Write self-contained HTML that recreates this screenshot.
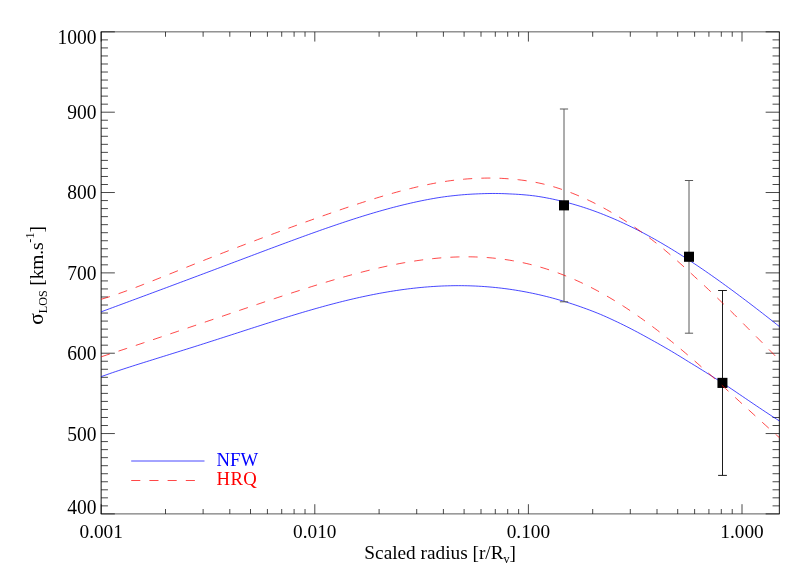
<!DOCTYPE html>
<html><head><meta charset="utf-8"><title>plot</title>
<style>
html,body{margin:0;padding:0;background:#fff;}
svg{display:block;will-change:transform;}
text{font-family:"Liberation Serif",serif;fill:#000;}
</style></head><body>
<svg width="810" height="578" viewBox="0 0 810 578">
<rect x="0" y="0" width="810" height="578" fill="#fff"/>

<g stroke="#000" fill="none">
<path stroke-width="0.9" stroke-opacity="0.72" d="M100.7,31.85H779.8000000000001 M100.7,513.9H779.8000000000001"/>
<path stroke-width="0.95" stroke-opacity="0.97" d="M101.15,31.85V513.9 M779.35,31.85V513.9"/>
<path stroke-width="0.85" stroke-opacity="0.85" d="M101.15,513.90h13.7M779.35,513.90h-13.7M101.15,505.87h6.8M779.35,505.87h-6.8M101.15,497.83h6.8M779.35,497.83h-6.8M101.15,489.80h6.8M779.35,489.80h-6.8M101.15,481.76h6.8M779.35,481.76h-6.8M101.15,473.73h6.8M779.35,473.73h-6.8M101.15,465.69h6.8M779.35,465.69h-6.8M101.15,457.66h6.8M779.35,457.66h-6.8M101.15,449.63h6.8M779.35,449.63h-6.8M101.15,441.59h6.8M779.35,441.59h-6.8M101.15,433.56h13.7M779.35,433.56h-13.7M101.15,425.52h6.8M779.35,425.52h-6.8M101.15,417.49h6.8M779.35,417.49h-6.8M101.15,409.46h6.8M779.35,409.46h-6.8M101.15,401.42h6.8M779.35,401.42h-6.8M101.15,393.39h6.8M779.35,393.39h-6.8M101.15,385.35h6.8M779.35,385.35h-6.8M101.15,377.32h6.8M779.35,377.32h-6.8M101.15,369.28h6.8M779.35,369.28h-6.8M101.15,361.25h6.8M779.35,361.25h-6.8M101.15,353.22h13.7M779.35,353.22h-13.7M101.15,345.18h6.8M779.35,345.18h-6.8M101.15,337.15h6.8M779.35,337.15h-6.8M101.15,329.11h6.8M779.35,329.11h-6.8M101.15,321.08h6.8M779.35,321.08h-6.8M101.15,313.05h6.8M779.35,313.05h-6.8M101.15,305.01h6.8M779.35,305.01h-6.8M101.15,296.98h6.8M779.35,296.98h-6.8M101.15,288.94h6.8M779.35,288.94h-6.8M101.15,280.91h6.8M779.35,280.91h-6.8M101.15,272.88h13.7M779.35,272.88h-13.7M101.15,264.84h6.8M779.35,264.84h-6.8M101.15,256.81h6.8M779.35,256.81h-6.8M101.15,248.77h6.8M779.35,248.77h-6.8M101.15,240.74h6.8M779.35,240.74h-6.8M101.15,232.70h6.8M779.35,232.70h-6.8M101.15,224.67h6.8M779.35,224.67h-6.8M101.15,216.64h6.8M779.35,216.64h-6.8M101.15,208.60h6.8M779.35,208.60h-6.8M101.15,200.57h6.8M779.35,200.57h-6.8M101.15,192.53h13.7M779.35,192.53h-13.7M101.15,184.50h6.8M779.35,184.50h-6.8M101.15,176.47h6.8M779.35,176.47h-6.8M101.15,168.43h6.8M779.35,168.43h-6.8M101.15,160.40h6.8M779.35,160.40h-6.8M101.15,152.36h6.8M779.35,152.36h-6.8M101.15,144.33h6.8M779.35,144.33h-6.8M101.15,136.29h6.8M779.35,136.29h-6.8M101.15,128.26h6.8M779.35,128.26h-6.8M101.15,120.23h6.8M779.35,120.23h-6.8M101.15,112.19h13.7M779.35,112.19h-13.7M101.15,104.16h6.8M779.35,104.16h-6.8M101.15,96.12h6.8M779.35,96.12h-6.8M101.15,88.09h6.8M779.35,88.09h-6.8M101.15,80.06h6.8M779.35,80.06h-6.8M101.15,72.02h6.8M779.35,72.02h-6.8M101.15,63.99h6.8M779.35,63.99h-6.8M101.15,55.95h6.8M779.35,55.95h-6.8M101.15,47.92h6.8M779.35,47.92h-6.8M101.15,39.88h6.8M779.35,39.88h-6.8M101.15,31.85h13.7M779.35,31.85h-13.7"/>
<path stroke-width="0.9" stroke-opacity="0.8" d="M101.20,513.9v-9.7M101.20,31.85v9.7M165.50,513.9v-4.9M165.50,31.85v4.9M203.11,513.9v-4.9M203.11,31.85v4.9M229.80,513.9v-4.9M229.80,31.85v4.9M250.50,513.9v-4.9M250.50,31.85v4.9M267.41,513.9v-4.9M267.41,31.85v4.9M281.71,513.9v-4.9M281.71,31.85v4.9M294.10,513.9v-4.9M294.10,31.85v4.9M305.03,513.9v-4.9M305.03,31.85v4.9M314.80,513.9v-9.7M314.80,31.85v9.7M379.10,513.9v-4.9M379.10,31.85v4.9M416.71,513.9v-4.9M416.71,31.85v4.9M443.40,513.9v-4.9M443.40,31.85v4.9M464.10,513.9v-4.9M464.10,31.85v4.9M481.01,513.9v-4.9M481.01,31.85v4.9M495.31,513.9v-4.9M495.31,31.85v4.9M507.70,513.9v-4.9M507.70,31.85v4.9M518.63,513.9v-4.9M518.63,31.85v4.9M528.40,513.9v-9.7M528.40,31.85v9.7M592.70,513.9v-4.9M592.70,31.85v4.9M630.31,513.9v-4.9M630.31,31.85v4.9M657.00,513.9v-4.9M657.00,31.85v4.9M677.70,513.9v-4.9M677.70,31.85v4.9M694.61,513.9v-4.9M694.61,31.85v4.9M708.91,513.9v-4.9M708.91,31.85v4.9M721.30,513.9v-4.9M721.30,31.85v4.9M732.23,513.9v-4.9M732.23,31.85v4.9M742.00,513.9v-9.7M742.00,31.85v9.7"/>
</g>
<g fill="none" stroke-width="0.72" stroke="#0000ff">
<path d="M101.20,311.80 L104.04,310.75 L106.88,309.71 L109.71,308.66 L112.55,307.61 L115.39,306.57 L118.23,305.52 L121.06,304.47 L123.90,303.42 L126.74,302.37 L129.58,301.31 L132.41,300.26 L135.25,299.21 L138.09,298.16 L140.93,297.10 L143.76,296.05 L146.60,295.00 L149.44,293.94 L152.28,292.89 L155.12,291.83 L157.95,290.78 L160.79,289.72 L163.63,288.66 L166.47,287.61 L169.30,286.55 L172.14,285.49 L174.98,284.43 L177.82,283.37 L180.65,282.31 L183.49,281.25 L186.33,280.19 L189.17,279.13 L192.01,278.06 L194.84,277.00 L197.68,275.94 L200.52,274.87 L203.36,273.81 L206.19,272.74 L209.03,271.68 L211.87,270.61 L214.71,269.54 L217.54,268.48 L220.38,267.41 L223.22,266.34 L226.06,265.27 L228.89,264.20 L231.73,263.13 L234.57,262.06 L237.41,261.00 L240.25,259.93 L243.08,258.86 L245.92,257.79 L248.76,256.72 L251.60,255.65 L254.43,254.58 L257.27,253.52 L260.11,252.45 L262.95,251.38 L265.78,250.32 L268.62,249.26 L271.46,248.20 L274.30,247.14 L277.13,246.08 L279.97,245.02 L282.81,243.97 L285.65,242.92 L288.49,241.87 L291.32,240.82 L294.16,239.78 L297.00,238.74 L299.84,237.70 L302.67,236.67 L305.51,235.64 L308.35,234.61 L311.19,233.59 L314.02,232.58 L316.86,231.57 L319.70,230.56 L322.54,229.56 L325.37,228.57 L328.21,227.58 L331.05,226.60 L333.89,225.63 L336.73,224.66 L339.56,223.70 L342.40,222.75 L345.24,221.80 L348.08,220.87 L350.91,219.94 L353.75,219.02 L356.59,218.12 L359.43,217.22 L362.26,216.33 L365.10,215.45 L367.94,214.59 L370.78,213.73 L373.62,212.89 L376.45,212.06 L379.29,211.24 L382.13,210.43 L384.97,209.64 L387.80,208.86 L390.64,208.09 L393.48,207.34 L396.32,206.61 L399.15,205.89 L401.99,205.18 L404.83,204.49 L407.67,203.82 L410.50,203.16 L413.34,202.52 L416.18,201.90 L419.02,201.29 L421.86,200.70 L424.69,200.14 L427.53,199.59 L430.37,199.06 L433.21,198.55 L436.04,198.06 L438.88,197.59 L441.72,197.16 L444.56,196.76 L447.39,196.39 L450.23,196.04 L453.07,195.72 L455.91,195.41 L458.74,195.13 L461.58,194.87 L464.42,194.64 L467.26,194.42 L470.10,194.24 L472.93,194.07 L475.77,193.94 L478.61,193.82 L481.45,193.72 L484.28,193.62 L487.12,193.55 L489.96,193.50 L492.80,193.48 L495.63,193.49 L498.47,193.52 L501.31,193.59 L504.15,193.67 L506.98,193.79 L509.82,193.93 L512.66,194.05 L515.50,194.20 L518.34,194.37 L521.17,194.57 L524.01,194.80 L526.85,195.06 L529.69,195.34 L532.52,195.66 L535.36,196.01 L538.20,196.44 L541.04,196.90 L543.87,197.39 L546.71,197.91 L549.55,198.46 L552.39,199.04 L555.23,199.65 L558.06,200.29 L560.90,200.95 L563.74,201.65 L566.58,202.38 L569.41,203.14 L572.25,203.92 L575.09,204.74 L577.93,205.59 L580.76,206.46 L583.60,207.37 L586.44,208.30 L589.28,209.27 L592.11,210.26 L594.95,211.28 L597.79,212.33 L600.63,213.42 L603.47,214.52 L606.30,215.66 L609.14,216.83 L611.98,218.02 L614.82,219.24 L617.65,220.49 L620.49,221.77 L623.33,223.07 L626.17,224.40 L629.00,225.76 L631.84,227.14 L634.68,228.56 L637.52,229.99 L640.35,231.45 L643.19,232.94 L646.03,234.45 L648.87,235.99 L651.71,237.55 L654.54,239.13 L657.38,240.74 L660.22,242.37 L663.06,244.03 L665.89,245.71 L668.73,247.40 L671.57,249.13 L674.41,250.87 L677.24,252.63 L680.08,254.41 L682.92,256.22 L685.76,258.04 L688.59,259.88 L691.43,261.75 L694.27,263.63 L697.11,265.52 L699.95,267.44 L702.78,269.37 L705.62,271.32 L708.46,273.29 L711.30,275.27 L714.13,277.27 L716.97,279.28 L719.81,281.31 L722.65,283.35 L725.48,285.40 L728.32,287.47 L731.16,289.55 L734.00,291.64 L736.84,293.75 L739.67,295.87 L742.51,298.00 L745.35,300.14 L748.19,302.29 L751.02,304.45 L753.86,306.62 L756.70,308.80 L759.54,310.98 L762.37,313.18 L765.21,315.39 L768.05,317.60 L770.89,319.83 L773.72,322.06 L776.56,324.30 L779.40,326.54"/>
<path d="M101.20,376.62 L104.04,375.61 L106.88,374.60 L109.71,373.62 L112.55,372.64 L115.39,371.68 L118.23,370.73 L121.06,369.79 L123.90,368.86 L126.74,367.93 L129.58,367.02 L132.41,366.11 L135.25,365.20 L138.09,364.30 L140.93,363.41 L143.76,362.52 L146.60,361.63 L149.44,360.74 L152.28,359.86 L155.12,358.97 L157.95,358.09 L160.79,357.21 L163.63,356.32 L166.47,355.44 L169.30,354.56 L172.14,353.67 L174.98,352.79 L177.82,351.90 L180.65,351.01 L183.49,350.12 L186.33,349.23 L189.17,348.34 L192.01,347.44 L194.84,346.55 L197.68,345.65 L200.52,344.75 L203.36,343.84 L206.19,342.94 L209.03,342.03 L211.87,341.12 L214.71,340.21 L217.54,339.30 L220.38,338.39 L223.22,337.48 L226.06,336.56 L228.89,335.65 L231.73,334.73 L234.57,333.81 L237.41,332.90 L240.25,331.98 L243.08,331.06 L245.92,330.14 L248.76,329.23 L251.60,328.31 L254.43,327.40 L257.27,326.49 L260.11,325.58 L262.95,324.67 L265.78,323.76 L268.62,322.86 L271.46,321.96 L274.30,321.07 L277.13,320.17 L279.97,319.29 L282.81,318.40 L285.65,317.52 L288.49,316.65 L291.32,315.78 L294.16,314.92 L297.00,314.06 L299.84,313.21 L302.67,312.37 L305.51,311.53 L308.35,310.70 L311.19,309.88 L314.02,309.07 L316.86,308.26 L319.70,307.47 L322.54,306.68 L325.37,305.90 L328.21,305.14 L331.05,304.38 L333.89,303.63 L336.73,302.90 L339.56,302.18 L342.40,301.46 L345.24,300.76 L348.08,300.07 L350.91,299.40 L353.75,298.73 L356.59,298.08 L359.43,297.45 L362.26,296.82 L365.10,296.22 L367.94,295.62 L370.78,295.04 L373.62,294.48 L376.45,293.93 L379.29,293.39 L382.13,292.87 L384.97,292.37 L387.80,291.88 L390.64,291.41 L393.48,290.96 L396.32,290.52 L399.15,290.10 L401.99,289.70 L404.83,289.32 L407.67,288.95 L410.50,288.60 L413.34,288.27 L416.18,287.96 L419.02,287.67 L421.86,287.40 L424.69,287.14 L427.53,286.91 L430.37,286.69 L433.21,286.50 L436.04,286.32 L438.88,286.17 L441.72,286.03 L444.56,285.92 L447.39,285.83 L450.23,285.75 L453.07,285.70 L455.91,285.67 L458.74,285.66 L461.58,285.67 L464.42,285.71 L467.26,285.76 L470.10,285.84 L472.93,285.94 L475.77,286.06 L478.61,286.21 L481.45,286.37 L484.28,286.56 L487.12,286.77 L489.96,287.01 L492.80,287.26 L495.63,287.54 L498.47,287.84 L501.31,288.17 L504.15,288.52 L506.98,288.89 L509.82,289.29 L512.66,289.70 L515.50,290.15 L518.34,290.61 L521.17,291.10 L524.01,291.61 L526.85,292.15 L529.69,292.71 L532.52,293.29 L535.36,293.90 L538.20,294.53 L541.04,295.18 L543.87,295.86 L546.71,296.56 L549.55,297.29 L552.39,298.04 L555.23,298.81 L558.06,299.61 L560.90,300.43 L563.74,301.28 L566.58,302.15 L569.41,303.04 L572.25,303.96 L575.09,304.90 L577.93,305.86 L580.76,306.85 L583.60,307.86 L586.44,308.90 L589.28,309.95 L592.11,311.04 L594.95,312.14 L597.79,313.27 L600.63,314.44 L603.47,315.67 L606.30,316.92 L609.14,318.20 L611.98,319.50 L614.82,320.83 L617.65,322.17 L620.49,323.54 L623.33,324.93 L626.17,326.34 L629.00,327.78 L631.84,329.24 L634.68,330.71 L637.52,332.21 L640.35,333.73 L643.19,335.27 L646.03,336.83 L648.87,338.42 L651.71,339.98 L654.54,341.55 L657.38,343.13 L660.22,344.74 L663.06,346.36 L665.89,348.00 L668.73,349.66 L671.57,351.34 L674.41,353.03 L677.24,354.74 L680.08,356.47 L682.92,358.21 L685.76,359.97 L688.59,361.74 L691.43,363.49 L694.27,365.21 L697.11,366.94 L699.95,368.69 L702.78,370.45 L705.62,372.22 L708.46,374.00 L711.30,375.79 L714.13,377.59 L716.97,379.40 L719.81,381.22 L722.65,383.04 L725.48,384.88 L728.32,386.80 L731.16,388.72 L734.00,390.64 L736.84,392.57 L739.67,394.49 L742.51,396.42 L745.35,398.35 L748.19,400.27 L751.02,402.19 L753.86,404.11 L756.70,406.02 L759.54,407.93 L762.37,409.82 L765.21,411.71 L768.05,413.58 L770.89,415.44 L773.72,417.29 L776.56,419.12 L779.40,420.93"/>
<path d="M131.2,461 H204.5"/>
</g>
<path stroke="#5a5a5a" stroke-width="1.0" fill="none" d="M564.0,109.00V301.80 M559.9,109.00h8.2 M559.9,301.80h8.2"/>
<path stroke="#5a5a5a" stroke-width="1.0" fill="none" d="M689.0,180.50V333.20 M684.9,180.50h8.2 M684.9,333.20h8.2"/>
<path stroke="#111" stroke-width="0.95" fill="none" d="M722.5,290.50V475.40 M718.1,290.50h8.8 M718.1,475.40h8.8"/>
<rect x="559.00" y="200.29" width="10" height="10.1" fill="#000"/>
<rect x="684.00" y="251.71" width="10" height="10.1" fill="#000"/>
<rect x="717.45" y="377.84" width="10" height="10.1" fill="#000"/>
<g fill="none" stroke-width="0.72" stroke="#ff0000" stroke-dasharray="9.1 9.1">
<path d="M101.20,299.25 L104.04,298.41 L106.88,297.54 L109.71,296.64 L112.55,295.72 L115.39,294.77 L118.23,293.80 L121.06,292.80 L123.90,291.79 L126.74,290.76 L129.58,289.71 L132.41,288.65 L135.25,287.58 L138.09,286.50 L140.93,285.41 L143.76,284.30 L146.60,283.20 L149.44,282.08 L152.28,280.96 L155.12,279.83 L157.95,278.70 L160.79,277.57 L163.63,276.43 L166.47,275.29 L169.30,274.16 L172.14,273.02 L174.98,271.88 L177.82,270.74 L180.65,269.60 L183.49,268.46 L186.33,267.33 L189.17,266.19 L192.01,265.06 L194.84,263.93 L197.68,262.80 L200.52,261.68 L203.36,260.55 L206.19,259.43 L209.03,258.32 L211.87,257.20 L214.71,256.09 L217.54,254.99 L220.38,253.88 L223.22,252.78 L226.06,251.68 L228.89,250.58 L231.73,249.49 L234.57,248.40 L237.41,247.32 L240.25,246.23 L243.08,245.15 L245.92,244.07 L248.76,243.00 L251.60,241.93 L254.43,240.86 L257.27,239.79 L260.11,238.73 L262.95,237.66 L265.78,236.60 L268.62,235.55 L271.46,234.49 L274.30,233.44 L277.13,232.39 L279.97,231.34 L282.81,230.30 L285.65,229.26 L288.49,228.22 L291.32,227.18 L294.16,226.15 L297.00,225.12 L299.84,224.09 L302.67,223.06 L305.51,222.04 L308.35,221.02 L311.19,220.00 L314.02,218.99 L316.86,217.98 L319.70,216.97 L322.54,215.97 L325.37,214.97 L328.21,213.98 L331.05,212.99 L333.89,212.00 L336.73,211.02 L339.56,210.05 L342.40,209.08 L345.24,208.12 L348.08,207.16 L350.91,206.21 L353.75,205.27 L356.59,204.33 L359.43,203.41 L362.26,202.49 L365.10,201.58 L367.94,200.67 L370.78,199.78 L373.62,198.90 L376.45,198.02 L379.29,197.16 L382.13,196.31 L384.97,195.47 L387.80,194.64 L390.64,193.83 L393.48,193.03 L396.32,192.24 L399.15,191.46 L401.99,190.71 L404.83,189.96 L407.67,189.23 L410.50,188.52 L413.34,187.83 L416.18,187.15 L419.02,186.49 L421.86,185.85 L424.69,185.23 L427.53,184.63 L430.37,184.05 L433.21,183.50 L436.04,182.96 L438.88,182.44 L441.72,181.97 L444.56,181.53 L447.39,181.11 L450.23,180.72 L453.07,180.35 L455.91,180.01 L458.74,179.70 L461.58,179.41 L464.42,179.15 L467.26,178.92 L470.10,178.72 L472.93,178.54 L475.77,178.40 L478.61,178.29 L481.45,178.19 L484.28,178.12 L487.12,178.07 L489.96,178.06 L492.80,178.08 L495.63,178.13 L498.47,178.22 L501.31,178.34 L504.15,178.50 L506.98,178.69 L509.82,178.92 L512.66,179.15 L515.50,179.41 L518.34,179.71 L521.17,180.05 L524.01,180.42 L526.85,180.84 L529.69,181.29 L532.52,181.78 L535.36,182.31 L538.20,182.87 L541.04,183.48 L543.87,184.13 L546.71,184.84 L549.55,185.61 L552.39,186.41 L555.23,187.26 L558.06,188.15 L560.90,189.07 L563.74,190.04 L566.58,191.05 L569.41,192.10 L572.25,193.19 L575.09,194.32 L577.93,195.50 L580.76,196.71 L583.60,197.96 L586.44,199.26 L589.28,200.59 L592.11,201.97 L594.95,203.38 L597.79,204.84 L600.63,206.33 L603.47,207.86 L606.30,209.44 L609.14,211.05 L611.98,212.70 L614.82,214.39 L617.65,216.11 L620.49,217.88 L623.33,219.68 L626.17,221.51 L629.00,223.39 L631.84,225.30 L634.68,227.24 L637.52,229.22 L640.35,231.23 L643.19,233.28 L646.03,235.36 L648.87,237.48 L651.71,239.62 L654.54,241.80 L657.38,244.01 L660.22,246.25 L663.06,248.61 L665.89,251.00 L668.73,253.42 L671.57,255.87 L674.41,258.34 L677.24,260.84 L680.08,263.36 L682.92,265.91 L685.76,268.49 L688.59,271.09 L691.43,273.71 L694.27,276.36 L697.11,278.96 L699.95,281.57 L702.78,284.19 L705.62,286.84 L708.46,289.50 L711.30,292.18 L714.13,294.88 L716.97,297.60 L719.81,300.34 L722.65,303.09 L725.48,305.86 L728.32,308.65 L731.16,311.45 L734.00,314.26 L736.84,317.09 L739.67,319.93 L742.51,322.79 L745.35,325.66 L748.19,328.54 L751.02,331.40 L753.86,334.23 L756.70,337.07 L759.54,339.92 L762.37,342.78 L765.21,345.66 L768.05,348.55 L770.89,351.45 L773.72,354.37 L776.56,357.30 L779.40,360.24"/>
<path d="M101.20,356.77 L104.04,355.85 L106.88,354.93 L109.71,354.01 L112.55,353.08 L115.39,352.15 L118.23,351.22 L121.06,350.29 L123.90,349.35 L126.74,348.42 L129.58,347.48 L132.41,346.54 L135.25,345.59 L138.09,344.65 L140.93,343.71 L143.76,342.76 L146.60,341.81 L149.44,340.86 L152.28,339.91 L155.12,338.96 L157.95,338.01 L160.79,337.05 L163.63,336.10 L166.47,335.14 L169.30,334.19 L172.14,333.23 L174.98,332.27 L177.82,331.31 L180.65,330.36 L183.49,329.40 L186.33,328.44 L189.17,327.47 L192.01,326.51 L194.84,325.55 L197.68,324.59 L200.52,323.63 L203.36,322.66 L206.19,321.70 L209.03,320.73 L211.87,319.77 L214.71,318.81 L217.54,317.84 L220.38,316.88 L223.22,315.91 L226.06,314.95 L228.89,313.98 L231.73,313.02 L234.57,312.06 L237.41,311.09 L240.25,310.13 L243.08,309.17 L245.92,308.21 L248.76,307.25 L251.60,306.29 L254.43,305.34 L257.27,304.38 L260.11,303.43 L262.95,302.47 L265.78,301.52 L268.62,300.57 L271.46,299.63 L274.30,298.68 L277.13,297.74 L279.97,296.81 L282.81,295.87 L285.65,294.94 L288.49,294.01 L291.32,293.08 L294.16,292.16 L297.00,291.25 L299.84,290.33 L302.67,289.43 L305.51,288.52 L308.35,287.63 L311.19,286.73 L314.02,285.85 L316.86,284.97 L319.70,284.10 L322.54,283.23 L325.37,282.37 L328.21,281.52 L331.05,280.67 L333.89,279.84 L336.73,279.01 L339.56,278.19 L342.40,277.38 L345.24,276.58 L348.08,275.79 L350.91,275.01 L353.75,274.24 L356.59,273.48 L359.43,272.73 L362.26,271.99 L365.10,271.27 L367.94,270.56 L370.78,269.86 L373.62,269.17 L376.45,268.50 L379.29,267.84 L382.13,267.20 L384.97,266.57 L387.80,265.96 L390.64,265.36 L393.48,264.78 L396.32,264.22 L399.15,263.67 L401.99,263.14 L404.83,262.63 L407.67,262.14 L410.50,261.66 L413.34,261.21 L416.18,260.78 L419.02,260.36 L421.86,259.97 L424.69,259.59 L427.53,259.24 L430.37,258.91 L433.21,258.60 L436.04,258.32 L438.88,258.06 L441.72,257.82 L444.56,257.61 L447.39,257.42 L450.23,257.25 L453.07,257.11 L455.91,257.00 L458.74,256.91 L461.58,256.85 L464.42,256.82 L467.26,256.81 L470.10,256.83 L472.93,256.88 L475.77,256.96 L478.61,257.07 L481.45,257.20 L484.28,257.37 L487.12,257.56 L489.96,257.79 L492.80,258.04 L495.63,258.33 L498.47,258.64 L501.31,258.99 L504.15,259.37 L506.98,259.79 L509.82,260.23 L512.66,260.71 L515.50,261.22 L518.34,261.76 L521.17,262.34 L524.01,262.95 L526.85,263.59 L529.69,264.27 L532.52,264.98 L535.36,265.72 L538.20,266.51 L541.04,267.32 L543.87,268.17 L546.71,269.05 L549.55,269.97 L552.39,270.93 L555.23,271.92 L558.06,272.94 L560.90,274.00 L563.74,275.10 L566.58,276.23 L569.41,277.39 L572.25,278.60 L575.09,279.83 L577.93,281.10 L580.76,282.41 L583.60,283.75 L586.44,285.13 L589.28,286.54 L592.11,287.99 L594.95,289.47 L597.79,290.98 L600.63,292.53 L603.47,294.12 L606.30,295.74 L609.14,297.39 L611.98,299.07 L614.82,300.79 L617.65,302.54 L620.49,304.33 L623.33,306.14 L626.17,307.99 L629.00,309.87 L631.84,311.78 L634.68,313.72 L637.52,315.69 L640.35,317.69 L643.19,319.72 L646.03,321.78 L648.87,323.87 L651.71,325.98 L654.54,328.13 L657.38,330.29 L660.22,332.49 L663.06,334.71 L665.89,336.96 L668.73,339.23 L671.57,341.52 L674.41,343.84 L677.24,346.18 L680.08,348.54 L682.92,350.92 L685.76,353.32 L688.59,355.74 L691.43,358.18 L694.27,360.63 L697.11,363.11 L699.95,365.60 L702.78,368.10 L705.62,370.62 L708.46,373.15 L711.30,375.69 L714.13,378.25 L716.97,380.81 L719.81,383.39 L722.65,385.97 L725.48,388.56 L728.32,391.15 L731.16,393.75 L734.00,396.36 L736.84,398.96 L739.67,401.57 L742.51,404.18 L745.35,406.79 L748.19,409.40 L751.02,412.01 L753.86,414.61 L756.70,417.20 L759.54,419.79 L762.37,422.37 L765.21,424.94 L768.05,427.50 L770.89,430.05 L773.72,432.59 L776.56,435.11 L779.40,437.62"/>
<path d="M131.2,480.5 H196"/>
</g>
<g font-size="19.5">
<text transform="translate(96.6,514.20) scale(1,1.025)" text-anchor="end">400</text>
<text transform="translate(96.6,440.51) scale(1,1.025)" text-anchor="end">500</text>
<text transform="translate(96.6,360.17) scale(1,1.025)" text-anchor="end">600</text>
<text transform="translate(96.6,279.82) scale(1,1.025)" text-anchor="end">700</text>
<text transform="translate(96.6,199.48) scale(1,1.025)" text-anchor="end">800</text>
<text transform="translate(96.6,119.14) scale(1,1.025)" text-anchor="end">900</text>
<text transform="translate(96.6,43.50) scale(1,1.025)" text-anchor="end">1000</text>
<text transform="translate(101.20,538.2) scale(1,1.025)" text-anchor="middle" font-size="19.3">0.001</text>
<text transform="translate(314.80,538.2) scale(1,1.025)" text-anchor="middle" font-size="19.3">0.010</text>
<text transform="translate(528.40,538.2) scale(1,1.025)" text-anchor="middle" font-size="19.3">0.100</text>
<text transform="translate(742.00,538.2) scale(1,1.025)" text-anchor="middle" font-size="19.3">1.000</text>
<text x="440.2" y="558.7" text-anchor="middle" font-size="19.3">Scaled radius [r/R<tspan font-size="12.09" dy="4.2">v</tspan><tspan dy="-4.2">]</tspan></text>
<text transform="translate(42.8,324.8) rotate(-90)" x="0" y="0"><tspan font-size="21.5">σ</tspan><tspan font-size="12.09" dy="4.2">LOS</tspan><tspan dy="-4.2" letter-spacing="-0.17"> [km.s</tspan><tspan font-size="12.09" dy="-8.5">-1</tspan><tspan dy="8.5">]</tspan></text>
</g>
<g font-size="18.7">
<text x="216.6" y="465.7" fill="#0000ff" style="fill:#0000ff">NFW</text>
<text x="216.6" y="485" fill="#ff0000" style="fill:#ff0000" letter-spacing="0.3">HRQ</text>
</g>
</svg></body></html>
